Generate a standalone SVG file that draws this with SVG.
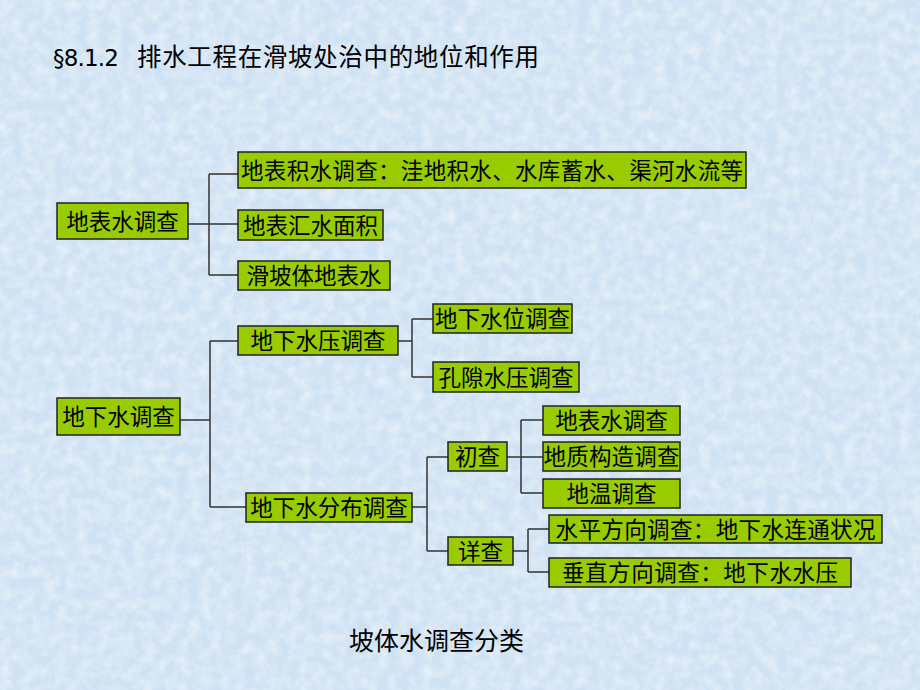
<svg xmlns="http://www.w3.org/2000/svg" width="920" height="690" viewBox="0 0 920 690">
<defs>
<filter id="tex" x="0" y="0" width="100%" height="100%">
<feTurbulence type="fractalNoise" baseFrequency="0.09" numOctaves="3" seed="4" result="n"/>
<feColorMatrix in="n" type="matrix" values="0 0 0 0 1  0 0 0 0 1  0 0 0 0 1  0 0 0 -1.6 1.05"/>
</filter>
<style>
.box{fill:#99cc00;stroke:#222;stroke-width:1.5}
.t{font-family:"Noto Sans CJK SC","Noto Sans",sans-serif;font-size:22.5px;fill:#000;text-anchor:middle}
.c{fill:none;stroke:#333;stroke-width:1.5}
</style>
</defs>
<rect width="920" height="690" fill="#cfe2f3"/>
<rect width="920" height="690" filter="url(#tex)" opacity="0.55"/>
<g id="title">
<text x="53" y="66" font-family="DejaVu Sans,Verdana,sans-serif" font-size="23" fill="#000" textLength="66">§8.1.2</text>
<text x="137" y="66" font-family="Noto Sans CJK SC,sans-serif" font-size="24.5" fill="#000" textLength="402">排水工程在滑坡处治中的地位和作用</text>
</g>
<g id="connectors" class="c">
<path d="M188,224H209M209,174V275M209,174H238M209,224H238M209,275H238"/>
<path d="M180,420H210M210,341V507M210,341H238M210,507H246"/>
<path d="M398,341H412M412,319V377M412,319H433M412,377H433"/>
<path d="M412,507H427M427,457V551M427,457H448M427,551H448"/>
<path d="M507,457H543M521,420V493M521,420H543M521,493H543"/>
<path d="M513,551H528M528,529V572M528,529H549M528,572H549"/>
</g>
<g id="n1"><rect class="box" x="57" y="203" width="131" height="36"/><text class="t" x="122.5" y="229.5">地表水调查</text></g>
<g id="n2"><rect class="box" x="238" y="152" width="508" height="36"/><text class="t" x="492" y="178.5" textLength="502">地表积水调查：洼地积水、水库蓄水、渠河水流等</text></g>
<g id="n3"><rect class="box" x="238" y="210" width="145" height="30"/><text class="t" x="310.5" y="233.5">地表汇水面积</text></g>
<g id="n4"><rect class="box" x="238" y="261" width="152" height="29"/><text class="t" x="314" y="284">滑坡体地表水</text></g>
<g id="n5"><rect class="box" x="57" y="398" width="123" height="37"/><text class="t" x="118.5" y="425">地下水调查</text></g>
<g id="n6"><rect class="box" x="238" y="326" width="160" height="29"/><text class="t" x="318" y="349">地下水压调查</text></g>
<g id="n7"><rect class="box" x="433" y="304" width="139" height="29"/><text class="t" x="502.5" y="327">地下水位调查</text></g>
<g id="n8"><rect class="box" x="433" y="362" width="146" height="30"/><text class="t" x="506" y="385.5">孔隙水压调查</text></g>
<g id="n9"><rect class="box" x="246" y="493" width="166" height="29"/><text class="t" x="329" y="516">地下水分布调查</text></g>
<g id="n10"><rect class="box" x="448" y="442" width="59" height="29"/><text class="t" x="477.5" y="465">初查</text></g>
<g id="n11"><rect class="box" x="543" y="406" width="137" height="29"/><text class="t" x="611.5" y="429">地表水调查</text></g>
<g id="n12"><rect class="box" x="543" y="442" width="137" height="29"/><text class="t" x="611.5" y="465" textLength="136">地质构造调查</text></g>
<g id="n13"><rect class="box" x="543" y="479" width="137" height="29"/><text class="t" x="611.5" y="502">地温调查</text></g>
<g id="n14"><rect class="box" x="448" y="537" width="65" height="28"/><text class="t" x="480.5" y="559.5">详查</text></g>
<g id="n15"><rect class="box" x="549" y="515" width="333" height="28"/><text class="t" x="715.5" y="537.5" textLength="320">水平方向调查：地下水连通状况</text></g>
<g id="n16"><rect class="box" x="549" y="558" width="302" height="29"/><text class="t" x="700" y="581" textLength="276">垂直方向调查：地下水水压</text></g>
<text x="436.5" y="649.5" font-family="Noto Sans CJK SC,sans-serif" font-size="25" text-anchor="middle" fill="#000">坡体水调查分类</text>
</svg>
